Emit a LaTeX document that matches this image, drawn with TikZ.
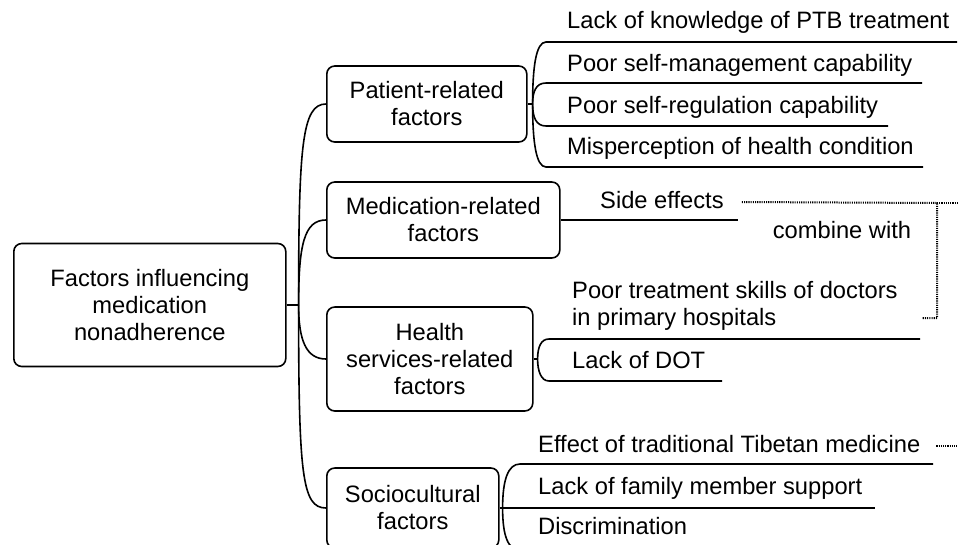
\documentclass[tikz,border=0pt]{standalone}
\usepackage{fontspec}
\setmainfont{Liberation Sans}
\usetikzlibrary{positioning}
\tikzset{
  box/.style={draw, rounded corners=8pt, line width=1.6pt, align=center, inner sep=2pt, anchor=west},
  leaf/.style={anchor=west, inner sep=0pt, text height=17pt, text depth=5pt},
  branch/.style={line width=1.6pt},
  hint/.style={line width=2pt, dash pattern=on 1.1pt off 1.1pt},
}

\begin{document}
\begin{tikzpicture}[x=1pt, y=1pt, font=\fontsize{23.7}{27}\selectfont]
  \clip (0,0) rectangle (958,-544);
  % boxes
  \node (root) [box, minimum width=272pt, minimum height=123pt] at (13,-305) {Factors influencing\\medication\\nonadherence};
  \node (pat) [box, minimum width=200pt, minimum height=76pt] at (326,-104) {Patient-related\\factors};
  \node (med) [box, minimum width=233pt, minimum height=76pt] at (326,-220) {Medication-related\\factors};
  \node (hsv) [box, minimum width=206pt, minimum height=104pt] at (326,-359) {Health\\services-related\\factors};
  \node (soc) [box, minimum width=172pt, minimum height=80pt] at (326,-508) {Sociocultural\\factors};
  \coordinate (j0) at ([xshift=12pt]root.east);
  \coordinate (j1) at ([xshift=5pt]pat.east);
  \coordinate (j3) at ([xshift=4pt]hsv.east);
  \coordinate (j4) at ([xshift=3pt]soc.east);
  % leaves
  \node (k1) [leaf] at (567,-22) {Lack of knowledge of PTB treatment};
  \node (k2) [leaf] at (567,-65) {Poor self-management capability};
  \node (k3) [leaf] at (567,-107) {Poor self-regulation capability};
  \node (k4) [leaf] at (567,-148) {Misperception of health condition};
  \node (side) [leaf] at (600,-202) {Side effects};
  \node (comb) at (842,-230) {combine with};
  \node (skill) [anchor=west, inner sep=0pt, align=left] at (572,-306) {Poor treatment skills of doctors\\in primary hospitals};
  \node (dot) [leaf] at (572,-362) {Lack of DOT};
  \node (tib) [leaf] at (538,-446) {Effect of traditional Tibetan medicine};
  \node (fam) [leaf] at (538,-488) {Lack of family member support};
  \node (disc) [leaf] at (538,-528) {Discrimination};
  \coordinate (c1) at (937,-203);
  \coordinate (c2) at (937,-318);
  \coordinate (c3) at (922,-318);
  % main branches
  \draw[branch] (root.east) -- (j0);
  \draw[branch] (j0) .. controls +(0,160) and +(-24,0) .. (pat.west);
  \draw[branch] (j0) .. controls +(0,60) and +(-22,0) .. (med.west);
  \draw[branch] (j0) .. controls +(0,-35) and +(-20,0) .. (hsv.west);
  \draw[branch] (j0) .. controls +(0,-170) and +(-24,0) .. (soc.west);
  % sub branches
  \draw[branch] (pat.east) -- (j1);
  \foreach \y/\e in {42/957, 83/922, 126/888, 167/923}
    \draw[branch] (j1) .. controls +(0,{0.6*(104-\y)}) and +(-10,0) .. (546,-\y) -- (\e,-\y);
  \draw[branch] (med.east) -- (738,-220);
  \draw[branch] (hsv.east) -- (j3);
  \draw[branch] (j3) .. controls +(0,12) and +(-8,0) .. (549,-339) -- (920,-339);
  \draw[branch] (j3) .. controls +(0,-12) and +(-8,0) .. (549,-381) -- (722,-381);
  \draw[branch] (soc.east) -- (j4) -- (875,-508);
  \draw[branch] (j4) .. controls +(0,28) and +(-12,0) .. (520,-464) -- (933,-464);
  \draw[branch] (j4) .. controls +(0,-28) and +(-12,0) .. (520,-550) -- (900,-550);
  % combine with
  \draw[hint] ([xshift=18pt]side.east) -- (c1) -- (c2) -- (c3);
  \draw[hint] (c1) -- ++(30,0);
  \draw[hint] ([xshift=16pt]tib.east) -- ++(30,0);
\end{tikzpicture}
\end{document}
